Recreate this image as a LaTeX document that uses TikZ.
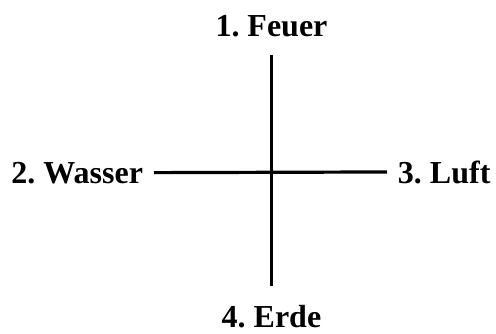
\documentclass[tikz,border=0pt]{standalone}
\usepackage{fontspec}
\setmainfont{Liberation Serif}
\usepackage{tikz}
\usetikzlibrary{positioning}
\frenchspacing
\tikzset{
  arm/.style={line width=3.2pt, draw=black},
  element/.style={font=\fontsize{32}{38}\selectfont\bfseries, inner sep=0pt},
  vlabel/.style={element, outer ysep=19pt},
  hlabel/.style={element, outer xsep=11pt},
}

\begin{document}
\begin{tikzpicture}[x=1pt,y=1pt]
    \useasboundingbox (-271.5,-161) rectangle (224.5,172);
    \node[vlabel,anchor=base] (feuer) at (0,136) {1. Feuer};
    \node[vlabel,anchor=base] (erde) at (0,-155) {4. Erde};
    \node[hlabel,anchor=base east] (wasser) at (-117.5,-11) {2. Wasser};
    \node[hlabel,anchor=base west] (luft) at (115.5,-11) {3. Luft};
    \draw[arm] (feuer.south) -- (erde.north);
    \draw[arm] (wasser.east) -- (luft.west);
  \end{tikzpicture}
\end{document}
